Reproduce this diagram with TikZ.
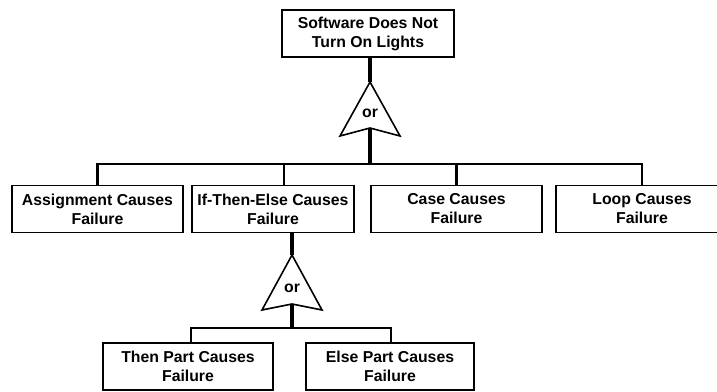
\documentclass[tikz,border=0pt]{standalone}
\usepackage{fontspec}
\setmainfont{Liberation Sans}
\begin{document}
\begin{tikzpicture}[x=1pt,y=-1pt,
  box/.style={draw,line width=1.8pt,minimum width=#1,minimum height=47pt,
    align=center,inner sep=0pt,font=\fontsize{15.8}{19}\selectfont\bfseries},
  box/.default=171pt,
  heavy/.style={line width=3.8pt},
  busline/.style={line width=2.6pt},
  gate/.style={line width=1.6pt,line join=miter,fill=white},
  gatelabel/.style={font=\fontsize{15.8}{19}\selectfont\bfseries,inner sep=0pt}]
\useasboundingbox (0,0) rectangle (717,391);
\clip (0,0) rectangle (717,391);
% boxes
\node[box=172pt] (top)  at (368,33.5)  {Software Does Not\\Turn On Lights};
\node[box=171pt] (asg)  at (97.5,209)  {Assignment Causes\\Failure};
\node[box=162pt] (ite)  at (273,209)   {If-Then-Else Causes\\Failure};
\node[box=171pt] (case) at (456.5,209) {Case Causes\\Failure};
\node[box=172pt] (loop) at (642,209)   {Loop Causes\\Failure};
\node[box=170pt] (then) at (188,366.5) {Then Part Causes\\Failure};
\node[box=168pt] (else) at (390,366.5) {Else Part Causes\\Failure};
% upper or gate
\coordinate (g1a) at (370,82);
\coordinate (g1b) at (370,128);
\coordinate (bus1) at (370,164);
\coordinate (itetap) at (284,164);
\draw[heavy] (top.south -| g1a) -- (g1a);
\draw[heavy] (g1b) -- (bus1);
\draw[gate] (g1a) -- ++(-30,54) -- (g1b) -- ++(30,8) -- cycle;
\node[gatelabel] (or1) at (370,113) {or};
\draw[busline] (asg.north) -- (asg.north |- bus1) -- (loop.north |- bus1) -- (loop.north);
\draw[busline] (itetap) -- (itetap |- ite.north);
\draw[busline] (case.north |- bus1) -- (case.north);
% lower or gate
\coordinate (g2a) at (292,255);
\coordinate (g2b) at (292,304);
\coordinate (bus2) at (292,328);
\coordinate (thentap) at (191,328);
\coordinate (elsetap) at (391,328);
\draw[heavy] (ite.south -| g2a) -- (g2a);
\draw[heavy] (g2b) -- (bus2);
\draw[gate] (g2a) -- ++(-30,55) -- (g2b) -- ++(30,6) -- cycle;
\node[gatelabel] (or2) at (292,288) {or};
\draw[busline] (thentap |- then.north) -- (thentap) -- (elsetap) -- (elsetap |- else.north);
\end{tikzpicture}
\end{document}
